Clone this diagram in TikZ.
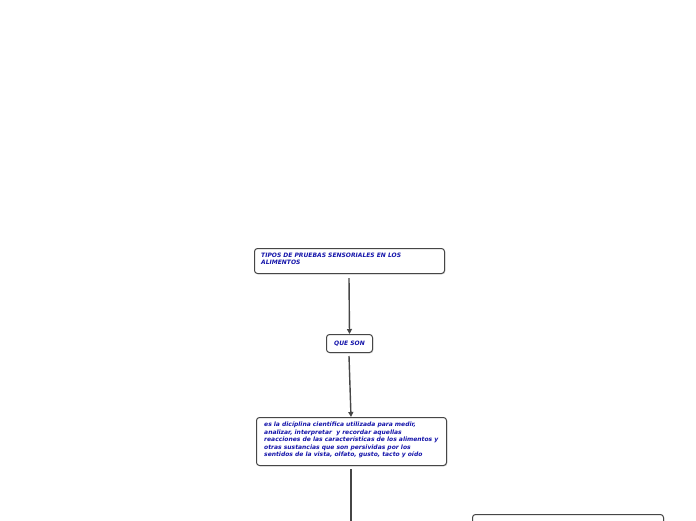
\documentclass[tikz,border=0pt]{standalone}
\usepackage{fontspec}
\setmainfont{DejaVu Sans}
\usetikzlibrary{arrows.meta,shadows}
\definecolor{txtblue}{RGB}{20,20,170}
\definecolor{lngray}{RGB}{70,70,70}
\tikzset{
  card/.style={draw=lngray, line width=1pt, rounded corners=3pt, fill=white,
    drop shadow={shadow xshift=0.8pt, shadow yshift=-0.8pt, opacity=0.3},
    inner sep=0pt},
  lbl/.style={font=\fontsize{6}{7.6}\selectfont\bfseries\itshape, text=txtblue, align=left, anchor=north west, inner sep=0pt},
  conn/.style={draw=lngray, line width=1.4pt, -{Triangle[length=5pt,width=5pt]}},
  plain/.style={draw=lngray, line width=1.4pt}
}
\begin{document}
\begin{tikzpicture}[x=1pt,y=-1pt]
\useasboundingbox (0,0) rectangle (696,520);
\clip (0,0) rectangle (696,520);
% boxes
\node[card, minimum width=190pt, minimum height=25pt, anchor=north west] (b1) at (254,248) {};
\node[lbl] (t1) at (261,252.5) {TIPOS DE PRUEBAS SENSORIALES EN LOS\\ALIMENTOS};
\node[card, minimum width=46pt, minimum height=18pt, anchor=north west, font=\fontsize{6}{7.6}\selectfont\bfseries\itshape, text=txtblue] (b2) at (326,334) {QUE SON};
\node[card, minimum width=190pt, minimum height=48pt, anchor=north west] (b3) at (256,417) {};
\node[lbl] (t3) at (264,421.5) {es la dicíplina científica utilizada para medir,\\analizar, interpretar\ \ y recordar aquellas\\reacciones de las características de los alimentos y\\otras sustancias que son persividas por los\\sentidos de la vista, olfato, gusto, tacto y oído};
\node[card, minimum width=191pt, minimum height=40pt, anchor=north west] (b4) at (472,514) {};
\coordinate (c1) at (349,278);
\coordinate (c2) at (349,356);
\coordinate (c3) at (351,417);
\coordinate (c4) at (351,469);
\coordinate (c5) at (351,530);
% connectors
\draw[conn] (c1) -- (b2.north);
\draw[conn] (c2) -- (c3);
\draw[plain] (c4) -- (c5);
\end{tikzpicture}
\end{document}
